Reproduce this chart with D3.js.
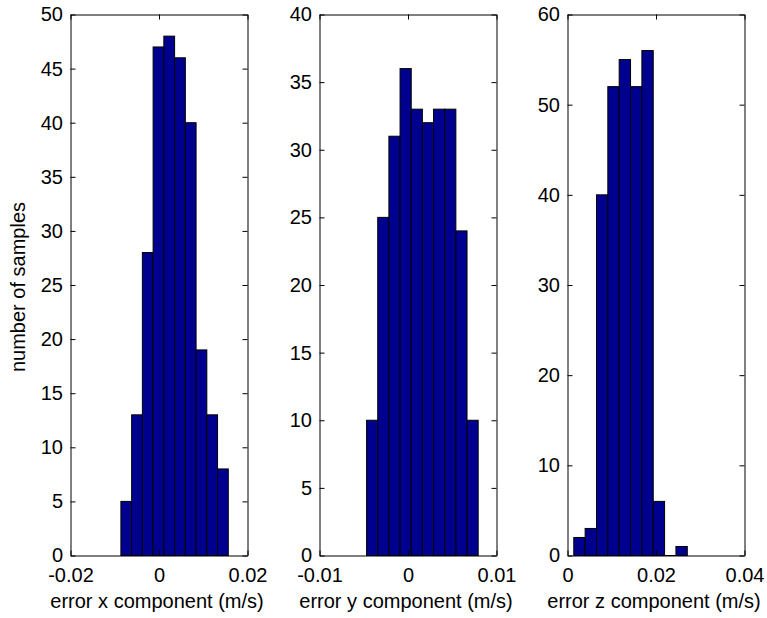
<!DOCTYPE html>
<html>
<head>
<meta charset="utf-8">
<script src="https://cdn.jsdelivr.net/npm/d3@7/dist/d3.min.js"></script>
<style>
  html, body { margin: 0; padding: 0; background: #fff; }
  svg { display: block; }
  text { font-family: "Liberation Sans", Arial, Helvetica, sans-serif; fill: #000; }
</style>
</head>
<body>
<svg id="chart" width="767" height="618"></svg>
<script>
// Histogram counts (10 bins each) of the velocity error components
const countsX = [5, 13, 28, 47, 48, 46, 40, 19, 13, 8];
const countsY = [10, 25, 31, 36, 33, 32, 33, 33, 24, 10];
const countsZ = [2, 3, 40, 52, 55, 52, 56, 6, 0, 1];

// Range of the samples covered by the bins (m/s)
const binRangeX = [-0.00861, 0.01566];
const binRangeY = [-0.00468, 0.00793];
const binRangeZ = [0.00142, 0.02707];

// Axis limits and tick values
const xLimits = [[-0.02, 0.02], [-0.01, 0.01], [0, 0.04]];
const xTickValues = [[-0.02, 0, 0.02], [-0.01, 0, 0.01], [0, 0.02, 0.04]];
const xTickLabels = [["-0.02", "0", "0.02"], ["-0.01", "0", "0.01"], ["0", "0.02", "0.04"]];
const yLimits = [[0, 50], [0, 40], [0, 60]];
const yTickValues = [
  [0, 5, 10, 15, 20, 25, 30, 35, 40, 45, 50],
  [0, 5, 10, 15, 20, 25, 30, 35, 40],
  [0, 10, 20, 30, 40, 50, 60]
];
const xLabels = ["error x component (m/s)", "error y component (m/s)", "error z component (m/s)"];
const yLabel = "number of samples";

const panels = [
  { counts: countsX, range: binRangeX },
  { counts: countsY, range: binRangeY },
  { counts: countsZ, range: binRangeZ }
];

const svg = d3.select("#chart");
const fontSize = 20;
const barFill = "#00008f";

const plotLefts = [70.5, 319.5, 567.5];
const plotW = 177;
const plotTop = 14.5, plotBottom = 555.5;

panels.forEach((p, i) => {
  const x = d3.scaleLinear().domain(xLimits[i]).range([plotLefts[i], plotLefts[i] + plotW]);
  const y = d3.scaleLinear().domain(yLimits[i]).range([plotBottom, plotTop]);
  const g = svg.append("g");

  // Bin edges: equal-width bins spanning the sample range
  const n = p.counts.length;
  const step = (p.range[1] - p.range[0]) / n;
  const bins = p.counts.map((c, k) => ({
    x0: p.range[0] + k * step,
    x1: p.range[0] + (k + 1) * step,
    count: c
  }));

  g.selectAll("rect.bar")
    .data(bins.filter(b => b.count > 0))
    .join("rect")
    .attr("class", "bar")
    .attr("x", b => x(b.x0))
    .attr("width", b => x(b.x1) - x(b.x0))
    .attr("y", b => y(b.count))
    .attr("height", b => y(0) - y(b.count))
    .attr("fill", barFill)
    .attr("stroke", "#000")
    .attr("stroke-width", 1);

  // Baseline along the bins
  g.append("line")
    .attr("x1", x(p.range[0])).attr("x2", x(p.range[1]))
    .attr("y1", y(0)).attr("y2", y(0))
    .attr("stroke", "#000");

  const styleAxis = sel => {
    sel.select(".domain").attr("stroke", "#000").attr("stroke-width", 1);
    sel.selectAll(".tick line").attr("stroke", "#000");
    sel.selectAll("text").style("font-size", fontSize + "px")
      .style("font-family", "'Liberation Sans', Arial, sans-serif");
  };

  // Left axis with labels, ticks pointing inward
  g.append("g")
    .attr("transform", `translate(${plotLefts[i]},0)`)
    .call(d3.axisLeft(y).tickValues(yTickValues[i]).tickSize(-5).tickSizeOuter(0).tickPadding(7.5).tickFormat(d3.format("d")))
    .call(styleAxis);

  // Right axis (box), ticks only
  g.append("g")
    .attr("transform", `translate(${plotLefts[i] + plotW},0)`)
    .call(d3.axisRight(y).tickValues(yTickValues[i]).tickSize(-5).tickSizeOuter(0).tickFormat(""))
    .call(styleAxis);

  // Bottom axis with labels
  g.append("g")
    .attr("transform", `translate(0,${plotBottom})`)
    .call(d3.axisBottom(x).tickValues(xTickValues[i]).tickSize(-5).tickSizeOuter(0).tickPadding(12)
      .tickFormat((d, k) => xTickLabels[i][k]))
    .call(styleAxis);

  // Top axis (box), ticks only
  g.append("g")
    .attr("transform", `translate(0,${plotTop})`)
    .call(d3.axisTop(x).tickValues(xTickValues[i]).tickSize(-5).tickSizeOuter(0).tickFormat(""))
    .call(styleAxis);

  // x label
  g.append("text")
    .attr("x", plotLefts[i] + plotW / 2 - 2)
    .attr("y", 608)
    .attr("text-anchor", "middle")
    .style("font-size", fontSize + "px")
    .text(xLabels[i]);
});

// Shared y label
svg.append("text")
  .attr("transform", "translate(25,287) rotate(-90)")
  .attr("text-anchor", "middle")
  .style("font-size", fontSize + "px")
  .text(yLabel);
</script>
</body>
</html>
